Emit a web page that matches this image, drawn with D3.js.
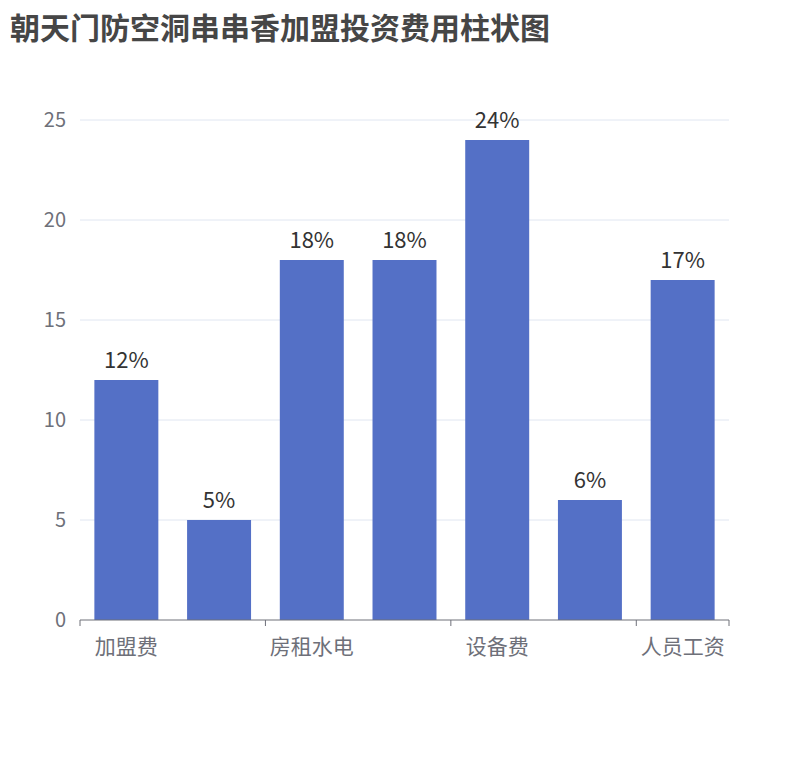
<!DOCTYPE html>
<html><head><meta charset="utf-8">
<script src="https://cdn.jsdelivr.net/npm/d3@7"></script>
<style>body{margin:0;background:#fff}</style>
</head><body>
<svg id="chart" width="810" height="760"></svg>
<script>
// categories (only every other one is labelled on the axis)
var categories = ["加盟费", "保证金", "房租水电", "装修费", "设备费", "首批原料", "人员工资"];
var values = [12, 5, 18, 18, 24, 6, 17];
var labels = ["12%", "5%", "18%", "18%", "24%", "6%", "17%"];
var yTicks = [0, 5, 10, 15, 20, 25];

var W = 810, H = 760;
var margin = {top: 120, right: 81, bottom: 140, left: 80};
var font = "'Noto Sans CJK SC', 'Noto Sans', sans-serif";

var svg = d3.select("#chart");

svg.append("text")
  .attr("x", 10).attr("y", 39)
  .style("font-family", font).style("font-size", "30px").style("font-weight", "bold")
  .attr("fill", "#464646")
  .text("朝天门防空洞串串香加盟投资费用柱状图");

var x = d3.scaleBand()
  .domain(categories)
  .range([margin.left, W - margin.right])
  .paddingInner(0.31).paddingOuter(0.155);

var y = d3.scaleLinear()
  .domain([0, 25])
  .range([H - margin.bottom, margin.top]);

// grid lines
svg.append("g").selectAll("line")
  .data(yTicks.slice(1))
  .enter().append("line")
  .attr("x1", margin.left).attr("x2", W - margin.right)
  .attr("y1", d => y(d)).attr("y2", d => y(d))
  .attr("stroke", "#e0e6f1");

// y labels
svg.append("g").selectAll("text")
  .data(yTicks)
  .enter().append("text")
  .attr("x", margin.left - 14).attr("y", d => y(d))
  .attr("dy", "0.35em").attr("text-anchor", "end")
  .style("font-family", font).style("font-size", "20px")
  .attr("fill", "#6e7079")
  .text(d => d);

// bars
svg.append("g").selectAll("rect")
  .data(values)
  .enter().append("rect")
  .attr("x", (d, i) => x(categories[i]))
  .attr("width", x.bandwidth())
  .attr("y", d => y(d))
  .attr("height", d => y(0) - y(d))
  .attr("fill", "#5470c6");

// value labels
svg.append("g").selectAll("text")
  .data(values)
  .enter().append("text")
  .attr("x", (d, i) => x(categories[i]) + x.bandwidth() / 2)
  .attr("y", d => y(d) - 12)
  .attr("text-anchor", "middle")
  .style("font-family", font).style("font-size", "22px")
  .attr("fill", "#333")
  .text((d, i) => labels[i]);

// x axis
var step = (W - margin.right - margin.left) / categories.length;
var ax = svg.append("g");
ax.append("line")
  .attr("x1", margin.left).attr("x2", W - margin.right)
  .attr("y1", y(0)).attr("y2", y(0))
  .attr("stroke", "#6e7079");
ax.selectAll("line.tick")
  .data(d3.range(0, categories.length + 1, 2).concat([categories.length]))
  .enter().append("line")
  .attr("x1", i => margin.left + i * step).attr("x2", i => margin.left + i * step)
  .attr("y1", y(0)).attr("y2", y(0) + 6)
  .attr("stroke", "#6e7079");
ax.selectAll("text")
  .data(categories.filter((c, i) => i % 2 === 0))
  .enter().append("text")
  .attr("x", d => x(d) + x.bandwidth() / 2)
  .attr("y", y(0) + 34)
  .attr("text-anchor", "middle")
  .style("font-family", font).style("font-size", "21px")
  .attr("fill", "#6e7079")
  .text(d => d);
</script>
</body></html>
